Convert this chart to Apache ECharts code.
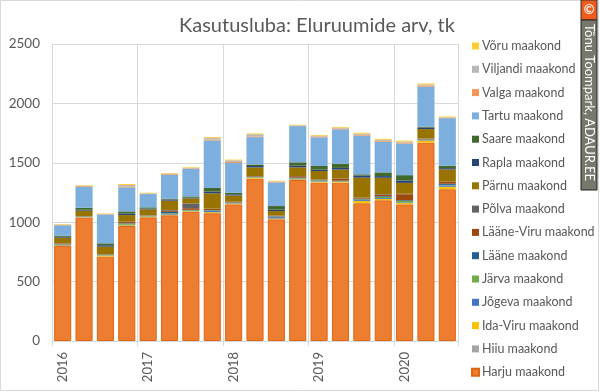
<!DOCTYPE html>
<html>
<head>
<meta charset="utf-8">
<script src="https://cdn.jsdelivr.net/npm/echarts@6/dist/echarts.min.js"></script>
<style>
html,body{margin:0;padding:0;background:#fff;}
#c{width:600px;height:392px;}
</style>
</head>
<body>
<div id="c"></div>
<script>
// Quarters 2016 Q1 .. 2020 Q3
const categories = ["2016 Q1","2016 Q2","2016 Q3","2016 Q4","2017 Q1","2017 Q2","2017 Q3","2017 Q4","2018 Q1","2018 Q2","2018 Q3","2018 Q4","2019 Q1","2019 Q2","2019 Q3","2019 Q4","2020 Q1","2020 Q2","2020 Q3"];
const yTicks = [0, 500, 1000, 1500, 2000, 2500];

const harju    = [800,1038,710,968,1041,1058,1088,1075,1150,1366,1024,1355,1333,1333,1159,1184,1150,1669,1277];
const hiiu     = [0,0,1,1,1,1,1,1,1,1,1,1,1,1,1,1,1,1,1];
const idaViru  = [5,4,6,5,4,5,4,8,5,6,6,5,6,5,18,10,10,18,20];
const jogeva   = [4,2,3,4,3,5,3,10,4,3,12,4,4,3,8,8,6,4,12];
const jarva    = [3,3,4,9,4,6,5,5,4,4,4,6,8,4,6,10,12,3,4];
const laane    = [3,2,2,4,2,12,3,3,3,3,3,4,3,3,5,6,6,3,10];
const laaneViru= [5,2,3,10,2,10,14,10,3,4,3,12,4,15,6,14,50,6,15];
const polva    = [2,1,1,3,1,6,40,2,2,1,2,2,2,3,4,4,4,2,2];
const parnu    = [48,45,64,56,50,78,42,129,53,73,39,73,70,76,168,137,92,78,104];
const rapla    = [7,8,12,12,7,10,6,15,10,12,12,14,12,14,18,14,20,12,10];
const saare    = [10,17,16,19,10,7,11,30,12,13,30,28,30,34,10,31,45,8,21];
const tartu    = [87,176,241,202,112,202,232,400,252,230,199,305,241,291,325,258,266,336,400];
const valga    = [4,6,3,8,3,6,5,8,8,6,5,4,8,8,8,8,9,10,4];
const viljandi = [3,4,4,12,3,4,4,12,14,18,4,3,6,6,10,9,8,9,3];
const voru     = [4,4,4,8,5,4,5,8,6,7,5,4,6,6,7,8,8,9,7];

const seriesNames = ["Harju maakond","Hiiu maakond","Ida-Viru maakond","Jõgeva maakond","Järva maakond","Lääne maakond","Lääne-Viru maakond","Põlva maakond","Pärnu maakond","Rapla maakond","Saare maakond","Tartu maakond","Valga maakond","Viljandi maakond","Võru maakond"];
const seriesData = [harju,hiiu,idaViru,jogeva,jarva,laane,laaneViru,polva,parnu,rapla,saare,tartu,valga,viljandi,voru];
const colors = ["#ED7D31","#A5A5A5","#FFC000","#4472C4","#70AD47","#255E91","#9E480E","#636363","#997300","#264478","#43682B","#7CAFDD","#F1975A","#B7B7B7","#FFCD33"];

const font = "Lato, 'Open Sans', sans-serif";
const chart = echarts.init(document.getElementById('c'), null, {renderer:'canvas'});

const series = seriesNames.map((n,i)=>({
  name:n, type:'bar', stack:'total', data:seriesData[i],
  barCategoryGap:'20%',
  itemStyle:{color:colors[i], borderColor: i===0 ? '#E2650F' : colors[i], borderWidth: i===0 ? 1 : 0},
  emphasis:{disabled:true}
}));

chart.setOption({
  animation:false,
  color:colors,
  title:{text:'Kasutusluba: Eluruumide arv, tk', left:312, textAlign:'center', top:11,
    textStyle:{fontFamily:font, fontSize:20, fontWeight:'normal', color:'#595959'}},
  grid:{left:52, right:142, top:44, bottom:51, containLabel:false},
  legend:{orient:'vertical', left:466, top:34, itemWidth:7, itemHeight:7, itemGap:9.3,
    icon:'rect', data:seriesNames.slice().reverse(),
    textStyle:{fontFamily:font, fontSize:12.5, color:'#595959', lineHeight:14, padding:[0,0,0,-2]}},
  xAxis:{type:'category', data:categories,
    axisLine:{show:true, lineStyle:{color:'#D9D9D9'}},
    axisTick:{show:true, interval:(i)=>i%4===0, length:5, lineStyle:{color:'#D9D9D9'}},
    splitLine:{show:true, interval:(i)=>i%4===0, lineStyle:{color:'#D9D9D9'}},
    axisLabel:{interval:(i)=>i%4===0, rotate:90, margin:11, formatter:(v)=>v.split(' ')[0],
      fontFamily:font, fontSize:13, color:'#595959'}},
  yAxis:{type:'value', min:yTicks[0], max:yTicks[yTicks.length-1], interval:500,
    axisLine:{show:false}, axisTick:{show:false},
    splitLine:{lineStyle:{color:'#D9D9D9'}},
    axisLabel:{fontFamily:font, fontSize:13.5, color:'#595959', margin:12, formatter:(v)=>String(v)}},
  graphic:[
    {type:'rect', shape:{x:0.5,y:0.5,width:598,height:390}, style:{fill:'none', stroke:'#D9D9D9', lineWidth:1}, silent:true},
    {type:'rect', shape:{x:581,y:0,width:16,height:20}, style:{fill:'#F05A1A', stroke:'#333', lineWidth:1}},
    {type:'text', x:589, y:10, style:{text:'©', fill:'#fff', font:'bold 13px '+font, textAlign:'center', textVerticalAlign:'middle'}},
    {type:'rect', shape:{x:581,y:20,width:16,height:170}, style:{fill:'#77776B', stroke:'#222', lineWidth:1}},
    {type:'text', x:589, y:24, rotation:-Math.PI/2,
      style:{text:'Tõnu Toompark, ADAUR.EE', fill:'#fff', font:'13px '+font, textAlign:'left', textVerticalAlign:'middle'}}
  ],
  series:series
});
</script>
</body>
</html>
